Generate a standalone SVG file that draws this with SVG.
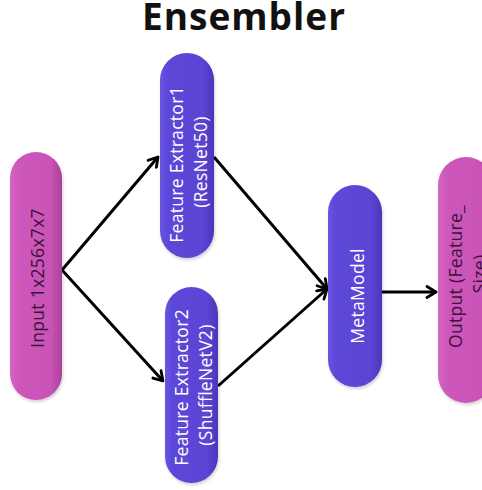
<svg xmlns="http://www.w3.org/2000/svg" width="482" height="490" viewBox="0 0 482 490">
  <defs>
    <linearGradient id="gPurple" x1="0" y1="0" x2="1" y2="0">
      <stop offset="0" stop-color="#6a55e0"/>
      <stop offset="0.15" stop-color="#5d47d8"/>
      <stop offset="0.8" stop-color="#5a44d4"/>
      <stop offset="1" stop-color="#4a36b8"/>
    </linearGradient>
    <linearGradient id="gMagenta" x1="0" y1="0" x2="1" y2="0">
      <stop offset="0" stop-color="#d566c4"/>
      <stop offset="0.15" stop-color="#cd58bb"/>
      <stop offset="0.8" stop-color="#c952b6"/>
      <stop offset="1" stop-color="#a8409a"/>
    </linearGradient>
    <filter id="soft" x="-20%" y="-10%" width="140%" height="120%">
      <feDropShadow dx="1" dy="2" stdDeviation="1.5" flood-color="#000" flood-opacity="0.18"/>
    </filter>
    <marker id="arrow" viewBox="0 0 14 14" refX="12" refY="7" markerWidth="14" markerHeight="14" markerUnits="userSpaceOnUse" orient="auto">
      <path d="M3,1.5 L12,7 L3,12.5" fill="none" stroke="#000" stroke-width="2.8" stroke-linecap="round" stroke-linejoin="round"/>
    </marker>
  </defs>
  <style>
    .title { font-family: "Open Sans", "Liberation Sans", sans-serif; font-weight: 700; font-size: 37px; letter-spacing: 1px; fill: #111; }
    .lbl { font-family: "Open Sans", "Liberation Sans", sans-serif; font-size: 17.5px; letter-spacing: 0.3px; text-anchor: middle; dominant-baseline: central; }
    .light { fill: #ffffff; }
    .dark { fill: #3a1236; }
    .pill-p { fill: url(#gPurple); filter: url(#soft); }
    .pill-m { fill: url(#gMagenta); filter: url(#soft); }
    .conn { stroke: #000; stroke-width: 3; fill: none; marker-end: url(#arrow); }
  </style>

  <rect width="482" height="490" fill="#ffffff"/>

  <text class="title" x="244" y="30" text-anchor="middle">Ensembler</text>

  <g id="connectors">
    <line class="conn" x1="62" y1="270" x2="158" y2="157"/>
    <line class="conn" x1="62" y1="270" x2="163" y2="381"/>
    <line class="conn" x1="214" y1="157" x2="327" y2="289"/>
    <line class="conn" x1="218" y1="386" x2="327" y2="289"/>
    <line class="conn" x1="382" y1="292" x2="436" y2="292"/>
  </g>

  <g id="input">
    <rect class="pill-m" x="10" y="152" width="52" height="248" rx="26"/>
    <text class="lbl dark" transform="translate(37,278) rotate(-90)">Input 1x256x7x7</text>
  </g>

  <g id="feature-extractor-1">
    <rect class="pill-p" x="160" y="53" width="54" height="205" rx="27"/>
    <text class="lbl light" transform="translate(188,162) rotate(-90)">
      <tspan x="0" dy="-12">Feature Extractor1</tspan>
      <tspan x="0" dy="24">(ResNet50)</tspan>
    </text>
  </g>

  <g id="feature-extractor-2">
    <rect class="pill-p" x="165" y="287" width="53" height="196" rx="26.5"/>
    <text class="lbl light" transform="translate(193,385) rotate(-90)">
      <tspan x="0" dy="-12">Feature Extractor2</tspan>
      <tspan x="0" dy="24">(ShuffleNetV2)</tspan>
    </text>
  </g>

  <g id="meta-model">
    <rect class="pill-p" x="328" y="185" width="54" height="202" rx="27"/>
    <text class="lbl light" transform="translate(357,296) rotate(-90)">MetaModel</text>
  </g>

  <g id="output">
    <rect class="pill-m" x="438" y="157" width="56" height="246" rx="28"/>
    <text class="lbl dark" transform="translate(467,274) rotate(-90)">
      <tspan x="0" dy="-12">Output (Feature_</tspan>
      <tspan x="0" dy="24">Size)</tspan>
    </text>
  </g>
</svg>
